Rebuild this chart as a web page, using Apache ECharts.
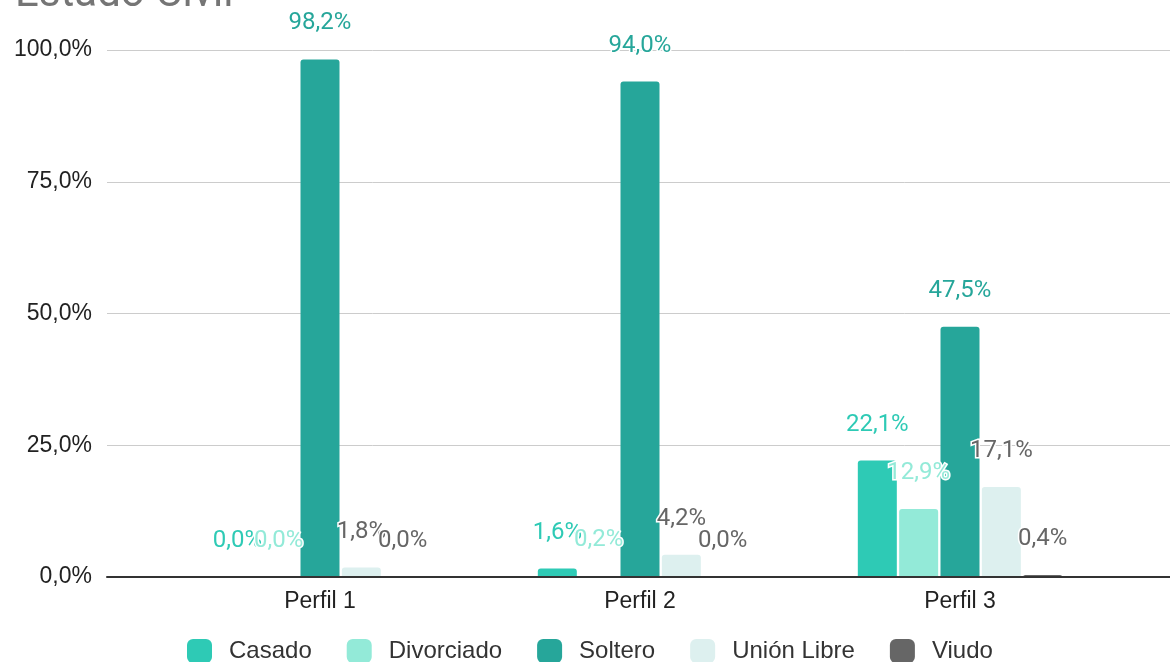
<!DOCTYPE html>
<html><head><meta charset="utf-8">
<script src="https://cdn.jsdelivr.net/npm/echarts@6/dist/echarts.min.js"></script>
<style>html,body{margin:0;padding:0;background:#fff}#c{width:1170px;height:662px}</style>
</head><body><div id="c"></div>
<script>
const categories = ['Perfil 1', 'Perfil 2', 'Perfil 3'];
const seriesNames = ['Casado', 'Divorciado', 'Soltero', 'Unión Libre', 'Viudo'];
const casado = [0.0, 1.6, 22.1];
const divorciado = [0.0, 0.2, 12.9];
const soltero = [98.2, 94.0, 47.5];
const unionLibre = [1.8, 4.2, 17.1];
const viudo = [0.0, 0.0, 0.4];
const yTicks = [0, 25, 50, 75, 100];
const colors = ['#2ECAB5', '#93EAD8', '#26A69A', '#DDF0EF', '#666666'];
const labelColors = ['#2ECAB5', '#93EAD8', '#26A69A', '#666666', '#666666'];
const values = [casado, divorciado, soltero, unionLibre, viudo];

const fmt = v => v.toFixed(1).replace('.', ',') + '%';
const chart = echarts.init(document.getElementById('c'));
chart.setOption({
  animation: false,
  color: colors,
  title: { text: 'Estado Civil', left: 10, top: -31, textStyle: { fontFamily: 'Roboto', fontSize: 42, fontWeight: 'normal', color: '#757575' } },
  legend: {
    left: 187, top: 639, padding: 0, itemWidth: 25, itemHeight: 24, itemGap: 35,
    icon: 'roundRect',
    textStyle: { fontFamily: 'Liberation Sans, Arial', fontSize: 24, color: '#333', padding: [0, 0, 0, 12] },
    data: seriesNames
  },
  grid: [
    { left: 107, right: 0, top: 50, bottom: 85 },
    { left: 160, right: 50, top: 50, bottom: 85 }
  ],
  xAxis: [
    { gridIndex: 0, type: 'category', data: [''], axisLine: { show: true, lineStyle: { color: '#333', width: 2 } }, axisTick: { show: false }, axisLabel: { show: false }, z: 5 },
    { gridIndex: 1, type: 'category', data: categories, axisLine: { show: false }, axisTick: { show: false },
      axisLabel: { margin: 13, fontFamily: 'Liberation Sans, Arial', fontSize: 23, color: '#222' } }
  ],
  yAxis: [
    { gridIndex: 0, type: 'value', min: 0, max: 100, interval: 25,
      axisLine: { show: false }, axisTick: { show: false },
      splitLine: { lineStyle: { color: '#cccccc', width: 1 } },
      axisLabel: { margin: 15, fontFamily: 'Liberation Sans, Arial', fontSize: 23, color: '#222', formatter: v => yTicks.includes(v) ? fmt(v) : '' } },
    { gridIndex: 1, type: 'value', min: 0, max: 100, interval: 25, show: false, splitLine: { show: false } }
  ],
  series: seriesNames.map((name, i) => ({
    name, type: 'bar', xAxisIndex: 1, yAxisIndex: 1,
    data: values[i], barWidth: 39, barGap: '6%',
    itemStyle: { color: colors[i], borderRadius: [3, 3, 0, 0] },
    label: { show: true, position: 'top', distance: 24, formatter: p => fmt(p.value),
      fontFamily: 'Roboto', fontSize: 24, color: labelColors[i], textBorderColor: '#fff', textBorderWidth: 3 },
    z: 3
  }))
});
</script></body></html>
